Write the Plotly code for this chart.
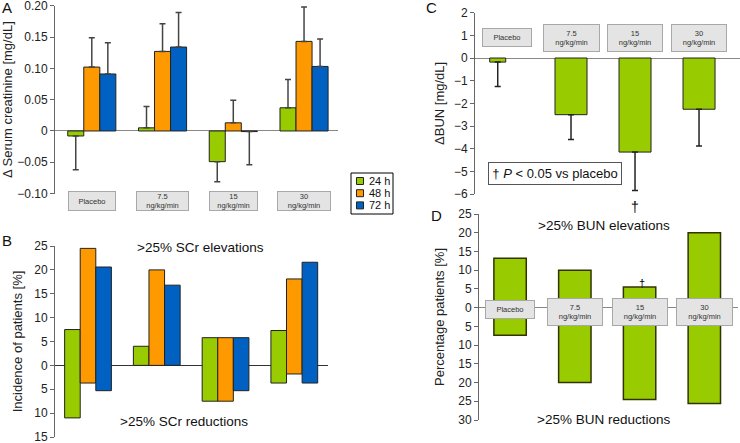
import plotly.graph_objects as go

FONT = "Liberation Sans, Arial, sans-serif"
W, H = 740, 443

cats = ["Placebo", "7.5", "15", "30"]
box_labels = ["Placebo", "7.5<br>ng/kg/min", "15<br>ng/kg/min", "30<br>ng/kg/min"]
times = ["24 h", "48 h", "72 h"]
colors = ["#99cc00", "#ff9900", "#0061c2"]

# Panel A: change in serum creatinine (mg/dL), mean and one-sided error
scr_24h = [-0.008, 0.005, -0.049, 0.037]
scr_48h = [0.102, 0.127, 0.013, 0.143]
scr_72h = [0.091, 0.134, -0.001, 0.103]
scr_err_24h = [0.054, 0.034, 0.032, 0.045]
scr_err_48h = [0.047, 0.044, 0.036, 0.055]
scr_err_72h = [0.050, 0.055, 0.053, 0.044]
a_ticks = [-0.10, -0.05, 0, 0.05, 0.10, 0.15, 0.20]
a_ticktext = ["\u22120.10", "\u22120.05", "0", "0.05", "0.10", "0.15", "0.20"]

# Panel B: % patients with >25% SCr elevations / reductions
elev_24h = [7.5, 4.0, 5.8, 7.3]
elev_48h = [24.5, 20.0, 5.8, 18.1]
elev_72h = [20.6, 16.8, 5.8, 21.6]
red_24h = [11.0, 0.0, 7.5, 3.7]
red_48h = [3.7, 0.0, 7.5, 1.8]
red_72h = [5.3, 0.0, 5.3, 3.7]
b_ticks = [-15, -10, -5, 0, 5, 10, 15, 20, 25]
b_ticktext = ["15", "10", "5", "0", "5", "10", "15", "20", "25"]

# Panel C: change in BUN (mg/dL)
bun_change = [-0.18, -2.5, -4.15, -2.26]
bun_err = [1.08, 1.09, 1.70, 1.62]

# Panel D: % patients with >25% BUN elevations / reductions
bun_elev = [13.2, 10.0, 5.5, 20.0]
bun_red = [7.4, 20.0, 24.5, 25.6]
d_ticks = [-30, -25, -20, -15, -10, -5, 0, 5, 10, 15, 20, 25]
d_ticktext = ["30", "25", "20", "15", "10", "5", "0", "5", "10", "15", "20", "25"]


def px_x(p):
    return p / W


def px_y(p):
    return 1 - p / H


fig = go.Figure()

# ---- Panel A ----
for name, col, vals, errs in zip(times, colors,
                                 [scr_24h, scr_48h, scr_72h],
                                 [scr_err_24h, scr_err_48h, scr_err_72h]):
    up = [e if v >= 0 else 0 for v, e in zip(vals, errs)]
    down = [e if v < 0 else 0 for v, e in zip(vals, errs)]
    fig.add_trace(go.Bar(
        x=cats, y=vals, name=name, xaxis="x", yaxis="y", showlegend=False,
        marker=dict(color=col, line=dict(color="#222222", width=1)),
        error_y=dict(type="data", symmetric=False, array=up, arrayminus=down,
                     color="#444444", thickness=1.5, width=3),
    ))

# ---- Panel B ----
for name, col, el, rd in zip(times, colors,
                             [elev_24h, elev_48h, elev_72h],
                             [red_24h, red_48h, red_72h]):
    fig.add_trace(go.Bar(
        x=cats, y=[e + r for e, r in zip(el, rd)], base=[-r for r in rd],
        name=name, xaxis="x2", yaxis="y2", showlegend=False,
        marker=dict(color=col, line=dict(color="#222222", width=1)),
    ))

# ---- Panel C ----
fig.add_trace(go.Bar(
    x=cats, y=bun_change, xaxis="x3", yaxis="y3", showlegend=False,
    width=[0.25, 0.5, 0.5, 0.5], offset=[-0.27, -0.25, -0.25, -0.25],
    marker=dict(color=colors[0], line=dict(color="#222222", width=1)),
    error_y=dict(type="data", symmetric=False, array=[0] * 4, arrayminus=bun_err,
                 color="#222222", thickness=1.5, width=3),
))

# ---- Panel D ----
fig.add_trace(go.Bar(
    x=cats, y=[e + r for e, r in zip(bun_elev, bun_red)], base=[-r for r in bun_red],
    xaxis="x4", yaxis="y4", showlegend=False, width=0.5,
    marker=dict(color=colors[0], line=dict(color="#333300", width=1.5)),
))

tickfont = dict(family=FONT, size=12, color="#222222")
titlefont = dict(family=FONT, size=13, color="#222222")


def yax(domain, rng, title, tickvals=None, ticktext=None, dtick=None, anchor="x",
        zc="#888888", standoff=4):
    d = dict(domain=domain, range=rng, anchor=anchor, showgrid=False, automargin=False,
             showline=True, linecolor="#666666", linewidth=1,
             ticks="outside", ticklen=4, tickcolor="#666666", ticklabeloverflow="allow",
             zeroline=True, zerolinecolor=zc, zerolinewidth=1,
             tickfont=tickfont, title=dict(text=title, font=titlefont, standoff=standoff))
    if tickvals is not None:
        d.update(tickmode="array", tickvals=tickvals, ticktext=ticktext)
    if dtick is not None:
        d.update(dtick=dtick)
    return d


def xax(domain, rng, anchor):
    return dict(domain=domain, range=rng, anchor=anchor, type="category", automargin=False,
                showgrid=False, showline=False, zeroline=False,
                showticklabels=False, ticks="")


fig.update_layout(
    width=W, height=H, margin=dict(l=0, r=0, t=0, b=0, autoexpand=False),
    paper_bgcolor="white", plot_bgcolor="white",
    font=dict(family=FONT, color="#222222"),
    barmode="group", bargap=0.32, bargroupgap=0, showlegend=False,
    xaxis=xax([px_x(55), px_x(338)], [-0.52, 3.48], "y"),
    yaxis=yax([px_y(193.6), px_y(5.7)], [-0.10, 0.20], "\u0394 Serum creatinine [mg/dL]",
              tickvals=a_ticks, ticktext=a_ticktext, anchor="x", standoff=2),
    xaxis2=xax([px_x(55), px_x(328)], [-0.48, 3.49], "y2"),
    yaxis2=yax([px_y(437), px_y(246)], [-15, 25], "Incidence of patients [%]",
               tickvals=b_ticks, ticktext=b_ticktext, anchor="x2", zc="#333333", standoff=8),
    xaxis3=xax([px_x(475), 1.0], [-0.5, 3.64], "y3"),
    yaxis3=yax([px_y(194), px_y(12.7)], [-6, 2], "\u0394BUN [mg/dL]", dtick=1, anchor="x3",
               standoff=6),
    xaxis4=xax([px_x(479), px_x(738)], [-0.48, 3.52], "y4"),
    yaxis4=yax([px_y(420), px_y(214)], [-30, 25], "Percentage patients [%]",
               tickvals=d_ticks, ticktext=d_ticktext, anchor="x4", standoff=10),
)

ann = []
shapes = []
# Category boxes
box_style = dict(showarrow=False, bgcolor="#e4e4e4", bordercolor="#a8a8a8",
                 borderwidth=1, borderpad=0, xanchor="center", yanchor="middle",
                 font=dict(family=FONT, size=7.5, color="#333333"))
a_w = [46, 51, 47, 52]
for i, (lab, w) in enumerate(zip(box_labels, a_w)):
    ann.append(dict(text=lab, x=i, xref="x", y=px_y(200.5), yref="paper",
                    width=w, height=18, **box_style))
c_w = [48, 55, 54, 54]
c_h = [17, 26, 26, 26]
c_y = [37.5, 38, 38, 38]
for i, (lab, w, h, yy) in enumerate(zip(box_labels, c_w, c_h, c_y)):
    ann.append(dict(text=lab, x=i, xref="x3", y=px_y(yy), yref="paper",
                    width=w, height=h, **box_style))
d_w = [48, 54, 54, 55]
d_h = [17, 26, 26, 26]
d_y = [309.5, 312, 312, 312]
for i, (lab, w, h, yy) in enumerate(zip(box_labels, d_w, d_h, d_y)):
    ann.append(dict(text=lab, x=i, xref="x4", y=px_y(yy), yref="paper",
                    width=w, height=h, **box_style))

# Legend for panel A (box, swatches, labels)
shapes.append(dict(type="rect", xref="paper", yref="paper",
                   x0=px_x(351), x1=px_x(393), y0=px_y(214), y1=px_y(173),
                   line=dict(color="#000000", width=1), fillcolor="white"))
for k, (name, col) in enumerate(zip(times, colors)):
    cy = 181 + 12.2 * k
    shapes.append(dict(type="rect", xref="paper", yref="paper",
                       x0=px_x(356.5), x1=px_x(363.5), y0=px_y(cy + 3.5), y1=px_y(cy - 3.5),
                       line=dict(color="#222222", width=1), fillcolor=col))
    ann.append(dict(text=name, x=px_x(367), y=px_y(cy), xref="paper", yref="paper",
                    xanchor="left", yanchor="middle", showarrow=False,
                    font=dict(family=FONT, size=11, color="#111111")))

# Panel letters
for t, x, y in [("A", 7, 8), ("B", 7, 240), ("C", 431, 8), ("D", 436, 215)]:
    ann.append(dict(text=t, x=px_x(x), y=px_y(y), xref="paper", yref="paper",
                    xanchor="center", yanchor="middle", showarrow=False,
                    font=dict(family=FONT, size=15, color="#111111")))

# Panel captions
cap_font = dict(family=FONT, size=13.5, color="#111111")
for t, x, y in [(">25% SCr elevations", 200, 247), (">25% SCr reductions", 184, 421),
                (">25% BUN elevations", 604, 226), (">25% BUN reductions", 603, 419)]:
    ann.append(dict(text=t, x=px_x(x), y=px_y(y), xref="paper", yref="paper",
                    xanchor="center", yanchor="middle", showarrow=False, font=cap_font))

# Significance box and daggers
ann.append(dict(text="\u2020 <i>P</i> < 0.05 vs placebo", x=px_x(555), y=px_y(174),
                xref="paper", yref="paper", xanchor="center", yanchor="middle",
                showarrow=False, width=130, height=19,
                bordercolor="#555555", borderwidth=1, borderpad=1, bgcolor="white",
                font=dict(family=FONT, size=13, color="#111111")))
ann.append(dict(text="\u2020", x=2, xref="x3", y=bun_change[2] - bun_err[2], yref="y3",
                xanchor="center", yanchor="top", yshift=-6, showarrow=False,
                font=dict(family=FONT, size=14, color="#000000")))
ann.append(dict(text="\u2020", x=2, xref="x4", y=bun_elev[2], yref="y4",
                xanchor="center", yanchor="middle", yshift=4, xshift=2, showarrow=False,
                font=dict(family=FONT, size=11, color="#000000")))

fig.update_layout(annotations=ann, shapes=shapes)
fig.write_html("out.html", config={"displayModeBar": False},
               post_script="document.body.style.margin='0';document.body.style.overflow='hidden';")
